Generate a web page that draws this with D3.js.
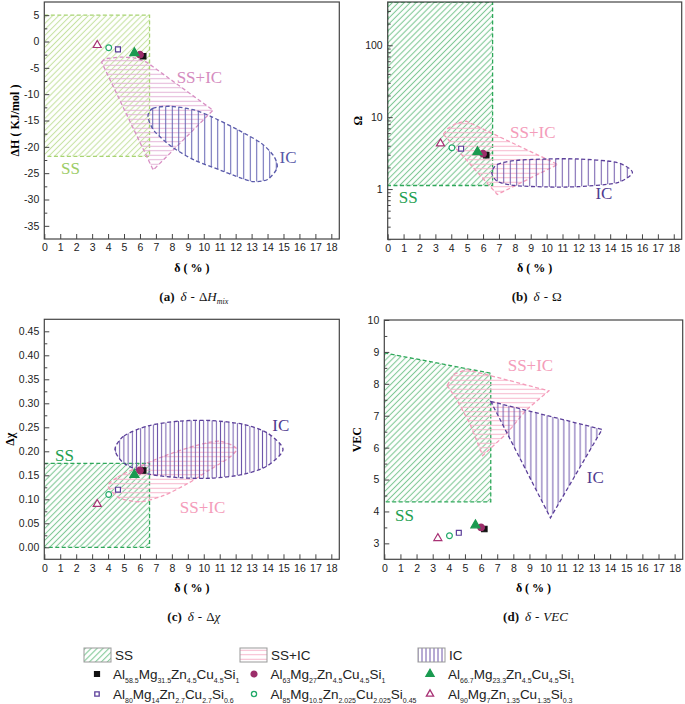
<!DOCTYPE html>
<html>
<head>
<meta charset="utf-8">
<script src="https://cdn.jsdelivr.net/npm/d3@7"></script>
<style>
body { margin: 0; background: #fff; }
svg { display: block; }
</style>
</head>
<body>
<svg id="chart" width="685" height="704"></svg>
<script>
// ---------- data ----------
var alloyNames = [
  [["Al","58.5"],["Mg","31.5"],["Zn","4.5"],["Cu","4.5"],["Si","1"]],
  [["Al","63"],["Mg","27"],["Zn","4.5"],["Cu","4.5"],["Si","1"]],
  [["Al","66.7"],["Mg","23.3"],["Zn","4.5"],["Cu","4.5"],["Si","1"]],
  [["Al","80"],["Mg","14"],["Zn","2.7"],["Cu","2.7"],["Si","0.6"]],
  [["Al","85"],["Mg","10.5"],["Zn","2.025"],["Cu","2.025"],["Si","0.45"]],
  [["Al","90"],["Mg","7"],["Zn","1.35"],["Cu","1.35"],["Si","0.3"]]
];
var delta = [6.2, 6.0, 5.65, 4.62, 4.04, 3.32];
var dHmix = [-2.8, -2.5, -2.2, -1.5, -1.2, -0.7];
var omega = [2.97, 3.1, 3.27, 3.64, 3.76, 4.3];
var dChi  = [0.16, 0.16, 0.151, 0.12, 0.11, 0.09];
var vec   = [3.45, 3.5, 3.57, 3.33, 3.24, 3.16];

var xTicks = [0,1,2,3,4,5,6,7,8,9,10,11,12,13,14,15,16,17,18];
var hTicks = [5,0,-5,-10,-15,-20,-25,-30,-35];
var hMinor = [2.5,-2.5,-7.5,-12.5,-17.5,-22.5,-27.5,-32.5];
var omegaTicks = [1,10,100];
var omegaMinor = [0.2,0.3,0.4,0.5,0.6,0.7,0.8,0.9,2,3,4,5,6,7,8,9,20,30,40,50,60,70,80,90,200,300];
var chiTicks = [0,0.05,0.10,0.15,0.20,0.25,0.30,0.35,0.40,0.45];
var chiMinor = [0.025,0.075,0.125,0.175,0.225,0.275,0.325,0.375,0.425];
var vecTicks = [3,4,5,6,7,8,9,10];
var vecMinor = [3.5,4.5,5.5,6.5,7.5,8.5,9.5];

// region outlines [delta, value]
var ssA   = [[0,5],[6.6,5],[6.6,-21.8],[0,-21.8]];
var ssicA = [[3.59,-3.9],[3.8,-3.26],[4.74,-2.95],[5.57,-3.07],[6.41,-3.9],[10.58,-13.05],[6.83,-24.4]];
var icA   = [[6.5,-14.3],[6.8,-12.7],[7.9,-12.3],[9.4,-13.0],[10.5,-14.3],[12.1,-16.7],[13.6,-19.3],[14.4,-21.8],
             [14.6,-24.0],[14.0,-26.2],[13.1,-26.6],[12.3,-25.9],[11.1,-24.5],[9.4,-22.5],[8.0,-20.0],[6.9,-17.0]];
var ssB   = [[0,400],[6.6,400],[6.6,1.12],[0,1.12]];
var ssicB = [[3.5,5.8],[3.8,7.0],[4.3,8.2],[4.95,8.8],[10.7,2.2],[6.9,0.84]];
var icB   = [[6.55,1.7],[6.9,2.2],[8,2.5],[10,2.62],[12,2.62],[14.4,2.35],[15.4,1.7],[14.4,1.22],[12,1.08],[10,1.07],[8,1.12],[6.9,1.28]];
var ssC   = [[0,0.175],[6.6,0.175],[6.6,0],[0,0]];
var ssicC = [[4.0,0.128],[4.6,0.146],[5.8,0.166],[7.5,0.19],[9.5,0.212],[11.0,0.221],[12.05,0.206],[11.6,0.187],
             [10.3,0.16],[9.0,0.133],[7.5,0.108],[6.0,0.095],[4.7,0.103]];
var icC   = [[4.43,0.204],[5.0,0.232],[6.5,0.253],[8.5,0.263],[10.5,0.264],[12.5,0.256],[14.0,0.238],[14.97,0.204],
             [14.0,0.17],[12.5,0.152],[10.5,0.144],[8.5,0.145],[6.5,0.153],[5.0,0.175]];
var ssD   = [[0,8.97],[6.6,8.33],[6.6,4.3],[0,4.3]];
var ssicD = [[3.9,7.95],[4.3,8.3],[5.1,8.45],[10.2,7.78],[8.8,7.18],[7.6,6.45],[6.1,5.75],[5.3,6.76],[4.5,7.5]];
var icD   = [[6.6,7.45],[13.5,6.57],[10.3,3.8]];

// ---------- styles ----------
var svg = d3.select("#chart");
var defs = svg.append("defs");
var serif = "'Liberation Serif','Times New Roman',serif";
var sans = "'Liberation Sans',Arial,sans-serif";

var palLight = {ss:"#a8d472", ssH:"#c6e2a4", ssic:"#d890c4", ssicH:"#e2b2d6", ic:"#5a5aaa", icH:"#5e5eb0",
                ssT:"#9ccc66", ssicT:"#d58cc0", icT:"#5858a8"};
var palMain  = {ss:"#2ea85a", ssH:"#80c896", ssic:"#f49cba", ssicH:"#f6b4ca", ic:"#5c409a", icH:"#6e56aa",
                ssT:"#22a050", ssicT:"#f49cba", icT:"#4f3b8f"};

var markers = [
  {type:d3.symbolSquare,   size:30, fill:"#111",    stroke:"#111"},
  {type:d3.symbolCircle,   size:34, fill:"#9c2d6a", stroke:"#9c2d6a"},
  {type:d3.symbolTriangle, size:36, fill:"#1a9a50", stroke:"#1a9a50"},
  {type:d3.symbolSquare,   size:24, fill:"#fff",    stroke:"#5b3e99"},
  {type:d3.symbolCircle,   size:26, fill:"#fff",    stroke:"#22aa6a"},
  {type:d3.symbolTriangle, size:28, fill:"#fff",    stroke:"#a83275"}
];

function pattern(id, kind, color, gap) {
  var p = defs.append("pattern").attr("id", id)
    .attr("patternUnits", "userSpaceOnUse")
    .attr("width", gap).attr("height", gap);
  if (kind == "diag") {
    p.attr("patternTransform", "rotate(45)");
    p.append("line").attr("x1", gap/2).attr("y1", 0).attr("x2", gap/2).attr("y2", gap)
      .attr("stroke", color).attr("stroke-width", 1.1);
  } else if (kind == "h") {
    p.append("line").attr("x1", 0).attr("y1", gap/2).attr("x2", gap).attr("y2", gap/2)
      .attr("stroke", color).attr("stroke-width", 1);
  } else {
    p.append("line").attr("x1", gap/2).attr("y1", 0).attr("x2", gap/2).attr("y2", gap)
      .attr("stroke", color).attr("stroke-width", 1);
  }
}

function panel(p) {
  var pal = p.pal;
  var x = d3.scaleLinear().domain([0, 18.5]).range([p.left, p.right]);
  var y = (p.log ? d3.scaleLog() : d3.scaleLinear()).domain(p.yDomain).range([p.bottom, p.top]);

  defs.append("clipPath").attr("id", "clip-" + p.id)
    .append("rect").attr("x", p.left).attr("y", p.top)
    .attr("width", p.right - p.left).attr("height", p.bottom - p.top);

  pattern("ss-" + p.id, "diag", pal.ssH, 4.2);
  pattern("ssic-" + p.id, "h", pal.ssicH, 4.5);
  pattern("ic-" + p.id, "v", pal.icH, p.icGap);

  var g = svg.append("g").attr("clip-path", "url(#clip-" + p.id + ")");
  var regions = [
    {pts:p.ss,   pat:"ss-" + p.id,   stroke:pal.ss,   smooth:false},
    {pts:p.ssic, pat:"ssic-" + p.id, stroke:pal.ssic, smooth:p.ssicSmooth},
    {pts:p.ic,   pat:"ic-" + p.id,   stroke:pal.ic,   smooth:p.icSmooth}
  ];
  regions.forEach(function(r) {
    var line = d3.line()
      .x(function(d) { return x(d[0]); })
      .y(function(d) { return y(d[1]); })
      .curve(r.smooth ? d3.curveCardinalClosed.tension(0.2) : d3.curveLinearClosed);
    g.append("path")
      .attr("d", line(r.pts))
      .attr("fill", "url(#" + r.pat + ")")
      .attr("stroke", r.stroke)
      .attr("stroke-width", 1.3)
      .attr("stroke-dasharray", "4,2.5");
  });

  // points
  p.vals.forEach(function(v, i) {
    var m = markers[i];
    g.append("path")
      .attr("d", d3.symbol().type(m.type).size(m.size)())
      .attr("transform", "translate(" + x(delta[i]) + "," + y(v) + ")")
      .attr("fill", m.fill)
      .attr("stroke", m.stroke)
      .attr("stroke-width", 1.2);
  });

  // region labels
  p.labels.forEach(function(l) {
    svg.append("text")
      .attr("x", x(l[1])).attr("y", y(l[2]))
      .attr("font-family", serif).attr("font-size", 17)
      .attr("fill", pal[l[3]])
      .text(l[0]);
  });

  // axes (ticks inside)
  var xa = svg.append("g").attr("transform", "translate(0," + p.bottom + ")")
    .call(d3.axisBottom(x).tickValues(xTicks).tickSize(-5).tickPadding(5).tickFormat(function(d) { return d; }));
  var ya = svg.append("g").attr("transform", "translate(" + p.left + ",0)")
    .call(d3.axisLeft(y).tickValues(p.yMajor).tickSize(-5).tickPadding(5).tickFormat(p.fmt));
  var ym = svg.append("g").attr("transform", "translate(" + p.left + ",0)")
    .call(d3.axisLeft(y).tickValues(p.yMinor).tickSize(-3).tickFormat(""));
  [xa, ya, ym].forEach(function(a) {
    a.select(".domain").remove();
    a.selectAll("line").attr("stroke", "#444");
    a.selectAll("text").attr("font-family", sans).attr("font-size", 10.5).attr("fill", "#222");
  });

  svg.append("rect")
    .attr("x", p.left).attr("y", p.top)
    .attr("width", p.right - p.left).attr("height", p.bottom - p.top)
    .attr("fill", "none").attr("stroke", "#444").attr("stroke-width", 1.2);

  // axis titles
  svg.append("text")
    .attr("x", (p.left + p.right) / 2).attr("y", p.bottom + 33)
    .attr("text-anchor", "middle")
    .attr("font-family", serif).attr("font-size", 12).attr("font-weight", "bold")
    .text("\u03b4 ( % )");
  svg.append("text")
    .attr("transform", "translate(" + (p.left - p.yLabelOff) + "," + ((p.top + p.bottom) / 2) + ") rotate(-90)")
    .attr("text-anchor", "middle")
    .attr("font-family", serif).attr("font-size", 12).attr("font-weight", "bold")
    .text(p.yLabel);

  // panel caption
  var cap = svg.append("text")
    .attr("x", (p.left + p.right) / 2 + 2).attr("y", p.bottom + 62)
    .attr("text-anchor", "middle")
    .attr("font-family", serif).attr("font-size", 13).attr("fill", "#111");
  cap.append("tspan").attr("font-weight", "bold").text("(" + p.id + ")");
  cap.append("tspan").attr("font-style", "italic").attr("dx", 6).text("\u03b4");
  cap.append("tspan").attr("dx", 4).text("-");
  p.caption.forEach(function(c, i) {
    var t = cap.append("tspan").attr("font-style", c[1] ? "italic" : "normal").text(c[0]);
    if (i == 0) t.attr("dx", 4);
    if (c[2]) t.attr("font-size", 8).attr("dy", 3);
  });
}

panel({id:"a", left:44.3, right:339.3, top:2, bottom:239, yDomain:[-37.5,7.5], log:false,
  yMajor:hTicks, yMinor:hMinor, fmt:function(d) { return d; }, vals:dHmix, pal:palLight,
  ss:ssA, ssic:ssicA, ic:icA, ssicSmooth:false, icSmooth:true, icGap:6.5,
  labels:[["SS",1.05,-25.2,"ssT"],["SS+IC",8.3,-7.9,"ssicT"],["IC",14.75,-23.1,"icT"]],
  yLabel:"\u0394H ( KJ/mol )", yLabelOff:25,
  caption:[["\u0394",false,false],["H",true,false],["mix",true,true]]});

panel({id:"b", left:387.7, right:681.7, top:2, bottom:239.3, yDomain:[0.2,400], log:true,
  yMajor:omegaTicks, yMinor:omegaMinor, fmt:function(d) { return d; }, vals:omega, pal:palMain,
  ss:ssB, ssic:ssicB, ic:icB, ssicSmooth:false, icSmooth:true, icGap:6.5,
  labels:[["SS",0.7,0.65,"ssT"],["SS+IC",7.7,5.2,"ssicT"],["IC",13.07,0.72,"icT"]],
  yLabel:"\u03a9", yLabelOff:26,
  caption:[["\u03a9",false,false]]});

panel({id:"c", left:44.3, right:339.3, top:319.3, bottom:559.3, yDomain:[-0.025,0.475], log:false,
  yMajor:chiTicks, yMinor:chiMinor, fmt:d3.format(".2f"), vals:dChi, pal:palMain,
  ss:ssC, ssic:ssicC, ic:icC, ssicSmooth:true, icSmooth:true, icGap:4.2,
  labels:[["SS",0.67,0.18,"ssT"],["SS+IC",8.5,0.072,"ssicT"],["IC",14.3,0.242,"icT"]],
  yLabel:"\u0394\u03c7", yLabelOff:30,
  caption:[["\u0394",false,false],["\u03c7",true,false]]});

panel({id:"d", left:384.3, right:682.7, top:320, bottom:559.3, yDomain:[2.5,10], log:false,
  yMajor:vecTicks, yMinor:vecMinor, fmt:function(d) { return d; }, vals:vec, pal:palMain,
  ss:ssD, ssic:ssicD, ic:icD, ssicSmooth:false, icSmooth:false, icGap:5.5,
  labels:[["SS",0.66,3.7,"ssT"],["SS+IC",7.65,8.4,"ssicT"],["IC",12.55,4.89,"icT"]],
  yLabel:"VEC", yLabelOff:23,
  caption:[["VEC",true,false]]});

// ---------- legend ----------
var leg = svg.append("g");
pattern("ss-leg", "diag", palMain.ssH, 4.2);
pattern("ssic-leg", "h", palMain.ssicH, 4.5);
pattern("ic-leg", "v", palMain.icH, 4);
var regionNames = ["SS", "SS+IC", "IC"];
var regionPats = ["ss-leg", "ssic-leg", "ic-leg"];
var colX = [84, 240, 418];
regionNames.forEach(function(n, i) {
  leg.append("rect").attr("x", colX[i]).attr("y", 648).attr("width", 27).attr("height", 14)
    .attr("fill", "url(#" + regionPats[i] + ")").attr("stroke", "#999").attr("stroke-width", 1);
  leg.append("text").attr("x", colX[i] + 31).attr("y", 660)
    .attr("font-family", sans).attr("font-size", 13.5).attr("fill", "#222").text(n);
});

var markX = [97, 254, 430];
var textX = [113, 270.5, 448];
alloyNames.forEach(function(name, i) {
  var col = i % 3, row = Math.floor(i / 3);
  var yy = 674 + row * 20;
  var m = markers[i];
  leg.append("path")
    .attr("d", d3.symbol().type(m.type).size(m.size * 0.8)())
    .attr("transform", "translate(" + markX[col] + "," + yy + ")")
    .attr("fill", m.fill).attr("stroke", m.stroke).attr("stroke-width", 1.3);
  var t = leg.append("text").attr("x", textX[col]).attr("y", yy + 5)
    .attr("font-family", sans).attr("font-size", 13.5).attr("fill", "#222");
  name.forEach(function(e, k) {
    t.append("tspan").attr("dy", k == 0 ? 0 : -3.5).text(e[0]);
    t.append("tspan").attr("dy", 3.5).attr("font-size", 7).text(e[1]);
  });
});
</script>
</body>
</html>
